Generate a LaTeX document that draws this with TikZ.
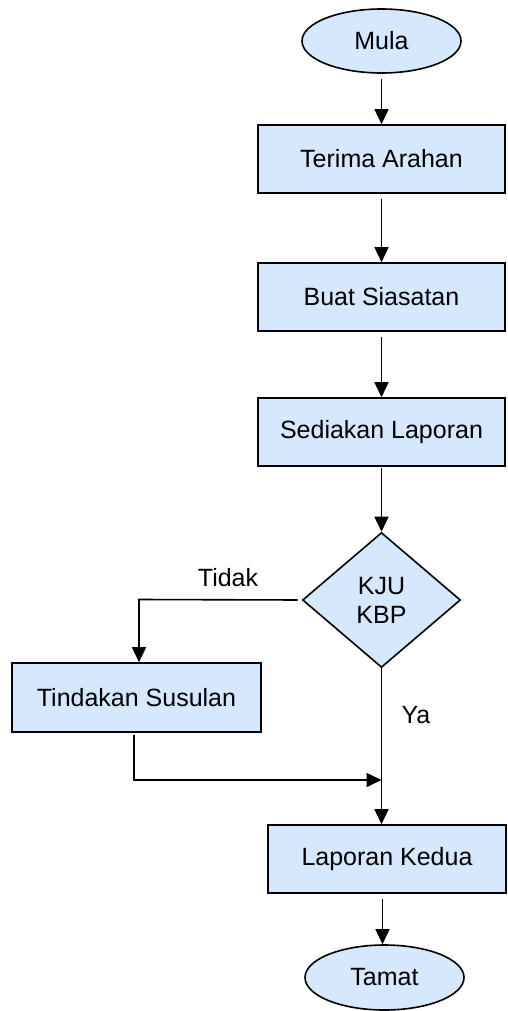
\documentclass[tikz,border=0pt]{standalone}
\usepackage{fontspec}
\setmainfont{Liberation Sans}
\usetikzlibrary{shapes.geometric,arrows.meta}
\definecolor{boxfill}{RGB}{214,232,253}
\begin{document}
\begin{tikzpicture}[x=1pt,y=-1pt,
  every node/.style={font=\fontsize{25}{29}\selectfont},
  procbox/.style={draw=black,line width=1.6pt,fill=boxfill,rectangle,minimum width=247pt,minimum height=68pt,inner sep=0pt},
  termnode/.style={draw=black,line width=1.6pt,fill=boxfill,ellipse,minimum width=159pt,minimum height=64pt,inner sep=0pt},
  decnode/.style={draw=black,line width=1.6pt,fill=boxfill,diamond,minimum width=158pt,minimum height=135pt,inner sep=0pt,align=center},
  flow/.style={line width=1.6pt,-{Triangle[length=15pt,width=14pt]}},
  plainline/.style={line width=1.6pt}]
\useasboundingbox (0,0) rectangle (507,1011);
\node[termnode] (mula) at (381.5,41) {Mula};
\node[procbox] (terima) at (381.5,159) {Terima Arahan};
\node[procbox] (buat) at (381.5,297) {Buat Siasatan};
\node[procbox] (sedia) at (381.5,432) {Sediakan Laporan};
\node[decnode] (dec) at (381.5,600) {KJU\\KBP};
\node[procbox,minimum width=249pt,minimum height=69pt] (tind) at (136.5,697.5) {Tindakan Susulan};
\node[procbox,minimum width=238pt] (lap) at (387,859) {Laporan Kedua};
\node[termnode,minimum height=65pt] (tamat) at (384.5,977.5) {Tamat};
\node (tidak) at (228,578) {Tidak};
\node (ya) at (416,715) {Ya};
\coordinate (tidakbend) at (139,599.5);
\coordinate (tindout) at (134,732);
\coordinate (tindbend) at (134,780);
\coordinate (join) at (381.5,780);
\draw[flow,shorten <=5pt] (mula.south) -- (terima.north);
\draw[flow,shorten <=5pt] (terima.south) -- (buat.north);
\draw[flow,shorten <=5pt] (buat.south) -- (sedia.north);
\draw[flow,shorten <=1pt] (sedia.south) -- (dec.north);
\draw[flow,shorten <=4pt] (dec.west) -- (tidakbend) -- (tidakbend |- tind.north);
\draw[flow,shorten <=3pt] (tindout) -- (tindbend) -- (join);
\draw[flow] (dec.south) -- (dec.south |- lap.north);
\draw[flow,shorten <=5pt] ([xshift=-2pt]tamat.north |- lap.south) -- ([xshift=-2pt]tamat.north);
\end{tikzpicture}
\end{document}
